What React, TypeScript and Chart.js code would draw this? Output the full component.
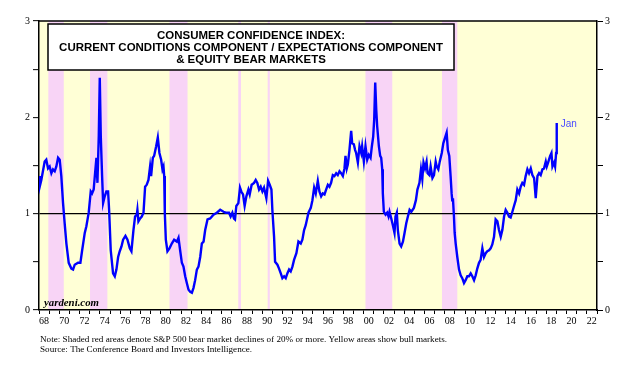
import React, { useEffect, useRef } from "react";
import { Chart, registerables } from "chart.js";

Chart.register(...registerables);

// Decimal year of each reading
const years = [
  1968.0, 1968.07, 1968.23, 1968.56, 1968.72, 1968.89, 1969.05, 1969.22, 1969.38, 1969.55, 1969.71, 1969.88,
  1970.04, 1970.2, 1970.37, 1970.53, 1970.7, 1970.93, 1971.19, 1971.36, 1971.52, 1971.85, 1972.08, 1972.24,
  1972.51, 1972.67, 1972.9, 1973.1, 1973.23, 1973.39, 1973.56, 1973.66, 1973.76, 1973.89, 1973.99, 1974.09,
  1974.22, 1974.32, 1974.48, 1974.64, 1974.81, 1974.91, 1975.07, 1975.3, 1975.47, 1975.63, 1975.8, 1975.96,
  1976.13, 1976.29, 1976.52, 1976.72, 1976.95, 1977.11, 1977.31, 1977.47, 1977.64, 1977.7, 1977.8, 1977.97,
  1978.13, 1978.3, 1978.46, 1978.62, 1978.79, 1978.95, 1979.05, 1979.22, 1979.35, 1979.55, 1979.71, 1979.87,
  1980.04, 1980.17, 1980.27, 1980.34, 1980.4, 1980.5, 1980.66, 1980.86, 1981.09, 1981.32, 1981.59, 1981.75,
  1981.91, 1982.08, 1982.24, 1982.41, 1982.57, 1982.74, 1982.9, 1983.07, 1983.23, 1983.39, 1983.56, 1983.72,
  1983.89, 1984.05, 1984.22, 1984.38, 1984.61, 1984.87, 1985.2, 1985.53, 1985.86, 1986.19, 1986.4, 1986.73,
  1986.89, 1987.06, 1987.22, 1987.32, 1987.45, 1987.65, 1987.81, 1987.94, 1988.11, 1988.27, 1988.44, 1988.64,
  1988.77, 1988.96, 1989.2, 1989.36, 1989.52, 1989.69, 1989.85, 1990.02, 1990.18, 1990.41, 1990.58, 1990.74,
  1990.91, 1991.0, 1991.17, 1991.27, 1991.5, 1991.66, 1991.83, 1991.99, 1992.16, 1992.32, 1992.48, 1992.65,
  1992.81, 1992.98, 1993.14, 1993.37, 1993.57, 1993.8, 1993.96, 1994.13, 1994.29, 1994.56, 1994.79, 1994.95,
  1995.12, 1995.28, 1995.48, 1995.64, 1995.81, 1995.97, 1996.14, 1996.3, 1996.47, 1996.63, 1996.79, 1996.96,
  1997.12, 1997.29, 1997.45, 1997.62, 1997.78, 1997.95, 1998.11, 1998.21, 1998.34, 1998.44, 1998.6, 1998.77,
  1998.87, 1999.03, 1999.16, 1999.26, 1999.43, 1999.59, 1999.76, 1999.85, 2000.02, 2000.18, 2000.35, 2000.51,
  2000.68, 2000.81, 2000.94, 2001.04, 2001.14, 2001.24, 2001.33, 2001.5, 2001.63, 2001.73, 2001.83, 2001.89,
  2001.99, 2002.16, 2002.32, 2002.45, 2002.55, 2002.72, 2002.88, 2003.04, 2003.14, 2003.27, 2003.37, 2003.54,
  2003.7, 2003.87, 2004.03, 2004.2, 2004.36, 2004.53, 2004.7, 2004.95, 2005.15, 2005.3, 2005.5, 2005.65,
  2005.78, 2005.9, 2006.05, 2006.2, 2006.3, 2006.48, 2006.6, 2006.78, 2006.93, 2007.1, 2007.2, 2007.36,
  2007.5, 2007.7, 2007.85, 2008.18, 2008.3, 2008.44, 2008.57, 2008.67, 2008.73, 2008.8, 2008.9, 2008.97,
  2009.07, 2009.23, 2009.4, 2009.56, 2009.72, 2009.89, 2010.05, 2010.22, 2010.38, 2010.55, 2010.71, 2010.88,
  2011.04, 2011.2, 2011.37, 2011.53, 2011.7, 2011.86, 2012.03, 2012.19, 2012.36, 2012.52, 2012.68, 2012.85,
  2013.01, 2013.18, 2013.34, 2013.51, 2013.67, 2013.84, 2014.0, 2014.17, 2014.33, 2014.49, 2014.66, 2014.82,
  2014.99, 2015.15, 2015.32, 2015.48, 2015.64, 2015.81, 2015.97, 2016.14, 2016.3, 2016.47, 2016.63, 2016.8,
  2016.96, 2017.13, 2017.29, 2017.45, 2017.62, 2017.78, 2017.95, 2018.05, 2018.18, 2018.38, 2018.51, 2018.61,
  2018.77, 2018.87, 2018.97, 2019.03,
];

// Current Conditions / Expectations ratio
const ratio = [
  1.39, 1.28, 1.35, 1.54, 1.56, 1.47, 1.49, 1.42, 1.46, 1.44, 1.49, 1.58,
  1.56, 1.39, 1.11, 0.9, 0.69, 0.49, 0.43, 0.42, 0.47, 0.49, 0.49, 0.61,
  0.8, 0.87, 1.01, 1.23, 1.21, 1.25, 1.46, 1.58, 1.32, 1.8, 2.41, 1.8,
  1.39, 1.11, 1.18, 1.23, 1.23, 1.04, 0.62, 0.38, 0.35, 0.42, 0.55, 0.61,
  0.66, 0.73, 0.77, 0.73, 0.64, 0.61, 0.83, 0.97, 0.99, 1.04, 0.92, 0.95,
  0.97, 1.01, 1.28, 1.3, 1.35, 1.49, 1.39, 1.58, 1.6, 1.7, 1.79, 1.63,
  1.56, 1.46, 1.49, 1.39, 1.01, 0.73, 0.61, 0.64, 0.69, 0.73, 0.71, 0.75,
  0.62, 0.49, 0.45, 0.35, 0.28, 0.21, 0.19, 0.18, 0.23, 0.31, 0.42, 0.45,
  0.55, 0.69, 0.71, 0.83, 0.94, 0.95, 0.99, 1.01, 1.04, 1.02, 1.01, 1.01,
  0.97, 1.01, 0.95, 0.94, 1.08, 1.11, 1.27, 1.23, 1.2, 1.08, 1.18, 1.25,
  1.2, 1.3, 1.32, 1.35, 1.32, 1.25, 1.28, 1.23, 1.27, 1.16, 1.34, 1.3,
  1.25, 1.04, 0.76, 0.5, 0.47, 0.43, 0.38, 0.33, 0.35, 0.33, 0.38, 0.42,
  0.4, 0.45, 0.52, 0.59, 0.71, 0.69, 0.73, 0.83, 0.88, 1.01, 1.06, 1.14,
  1.27, 1.21, 1.34, 1.23, 1.18, 1.21, 1.2, 1.25, 1.3, 1.28, 1.32, 1.4,
  1.39, 1.42, 1.4, 1.44, 1.42, 1.39, 1.47, 1.6, 1.47, 1.51, 1.66, 1.86,
  1.73, 1.72, 1.66, 1.63, 1.53, 1.7, 1.63, 1.7, 1.54, 1.7, 1.56, 1.61,
  1.58, 1.7, 1.8, 1.98, 2.36, 2.08, 1.91, 1.7, 1.6, 1.58, 1.46, 1.21,
  1.02, 0.99, 1.01, 0.97, 1.02, 0.95, 0.88, 0.8, 0.97, 1.01, 0.83, 0.69,
  0.66, 0.71, 0.8, 0.9, 0.97, 1.04, 1.02, 1.06, 1.14, 1.25, 1.32, 1.46,
  1.36, 1.53, 1.47, 1.54, 1.42, 1.4, 1.49, 1.37, 1.4, 1.54, 1.49, 1.46,
  1.54, 1.63, 1.73, 1.84, 1.66, 1.6, 1.39, 1.21, 1.14, 1.16, 0.97, 0.8,
  0.69, 0.55, 0.42, 0.36, 0.33, 0.28, 0.31, 0.35, 0.35, 0.38, 0.35, 0.31,
  0.36, 0.43, 0.49, 0.52, 0.64, 0.55, 0.59, 0.61, 0.62, 0.64, 0.68, 0.76,
  0.94, 0.92, 0.83, 0.76, 0.83, 0.97, 1.04, 1.01, 0.97, 0.96, 1.02, 1.08,
  1.14, 1.25, 1.21, 1.28, 1.32, 1.3, 1.39, 1.46, 1.42, 1.47, 1.4, 1.37,
  1.16, 1.39, 1.42, 1.4, 1.46, 1.47, 1.54, 1.49, 1.53, 1.6, 1.63, 1.49,
  1.53, 1.49, 1.63, 1.94,
];

// S&P 500 bear markets (decimal years)
const bearStart = [1968.92, 1973.03, 1980.86, 1987.64, 1990.54, 2000.18, 2007.72];
const bearEnd = [1970.44, 1974.74, 1982.64, 1987.91, 1990.75, 2002.82, 2009.23];

const xMin = 1968;
const xMax = 2023;
const yMin = 0;
const yMax = 3;

const titleLines = [
  "CONSUMER CONFIDENCE INDEX:",
  "CURRENT CONDITIONS COMPONENT / EXPECTATIONS COMPONENT",
  "& EQUITY BEAR MARKETS",
];
const noteLines = [
  "Note: Shaded red areas denote S&P 500 bear market declines of 20% or more. Yellow areas show bull markets.",
  "Source: The Conference Board and Investors Intelligence.",
];
const lastLabel = "Jan";
const watermark = "yardeni.com";

const YELLOW = "#FFFFD6";
const PINK = "#F8D4F6";

function fitFont(ctx: CanvasRenderingContext2D, text: string, style: string, family: string, target: number) {
  ctx.font = `${style} 10px ${family}`;
  const w = ctx.measureText(text).width;
  const size = (10 * target) / w;
  ctx.font = `${style} ${size.toFixed(2)}px ${family}`;
}

const decor = {
  id: "decor",
  beforeDraw(chart: any) {
    const { ctx, chartArea: a, scales } = chart;
    const x = scales.x;
    ctx.save();
    ctx.fillStyle = YELLOW;
    ctx.fillRect(a.left, a.top, a.right - a.left, a.bottom - a.top);
    ctx.fillStyle = PINK;
    bearStart.forEach((s, i) => {
      const x0 = x.getPixelForValue(s);
      const x1 = x.getPixelForValue(bearEnd[i]);
      ctx.fillRect(x0, a.top, x1 - x0, a.bottom - a.top);
    });
    ctx.restore();
  },
  afterDraw(chart: any) {
    const { ctx, chartArea: a, scales } = chart;
    ctx.save();
    // top frame line
    ctx.strokeStyle = "#000";
    ctx.lineWidth = 1.5;
    ctx.beginPath();
    ctx.moveTo(a.left, a.top);
    ctx.lineTo(a.right, a.top);
    ctx.stroke();

    // title box
    const bx = a.left + 9;
    const by = a.top + 3;
    const bw = 406;
    const bh = 46;
    ctx.fillStyle = "#fff";
    ctx.fillRect(bx, by, bw, bh);
    ctx.lineWidth = 1.5;
    ctx.strokeRect(bx, by, bw, bh);
    fitFont(ctx, titleLines[1], "bold", "'Liberation Sans', Arial, sans-serif", 384);
    ctx.fillStyle = "#000";
    ctx.textAlign = "center";
    ctx.textBaseline = "middle";
    titleLines.forEach((t, i) => {
      ctx.fillText(t, bx + bw / 2, by + 12 + i * 11.8);
    });

    // watermark
    fitFont(ctx, watermark, "italic bold", "'Liberation Serif', 'Times New Roman', serif", 55);
    ctx.textAlign = "left";
    ctx.textBaseline = "alphabetic";
    ctx.fillText(watermark, a.left + 5, a.bottom - 4);

    // last value label
    const xs = scales.x;
    const ys = scales.y;
    const lx = xs.getPixelForValue(years[years.length - 1]);
    const ly = ys.getPixelForValue(ratio[ratio.length - 1]);
    ctx.font = "10px 'Liberation Sans', Arial, sans-serif";
    ctx.fillStyle = "#4B4BFF";
    ctx.textBaseline = "middle";
    ctx.fillText(lastLabel, lx + 4, ly + 1);

    // notes
    fitFont(ctx, noteLines[0], "", "'Liberation Serif', 'Times New Roman', serif", 408);
    ctx.fillStyle = "#000";
    ctx.textBaseline = "middle";
    ctx.fillText(noteLines[0], 40, 340);
    ctx.fillText(noteLines[1], 40, 349.5);
    ctx.restore();
  },
};

export default function App() {
  const ref = useRef<HTMLCanvasElement>(null);
  useEffect(() => {
    document.body.style.margin = "0";
    const points = years.map((x, i) => ({ x, y: ratio[i] }));
    const tickFont = { family: "'Liberation Serif', 'Times New Roman', serif", size: 10 };
    const yTickCb = (v: any) => (Number(v) % 1 === 0 ? String(v) : "");
    const chart = new Chart(ref.current as HTMLCanvasElement, {
      type: "line",
      data: {
        datasets: [
          {
            data: points,
            borderColor: "#0000FF",
            borderWidth: 2.4,
            pointRadius: 0,
            tension: 0,
            fill: false,
          },
        ],
      },
      options: {
        responsive: false,
        animation: false,
        devicePixelRatio: 1,
        parsing: true as any,
        layout: { padding: { top: 21, bottom: 48, left: 0, right: 0 } },
        plugins: { legend: { display: false }, tooltip: { enabled: false } },
        scales: {
          x: {
            type: "linear",
            min: xMin,
            max: xMax,
            afterFit: (s: any) => {
              s.height = 20;
            },
            ticks: {
              stepSize: 1,
              autoSkip: false,
              maxRotation: 0,
              labelOffset: 5,
              padding: 1,
              color: "#000",
              font: tickFont,
              callback: (v: any) => {
                const n = Math.round(Number(v));
                return n % 2 === 0 ? String(n % 100).padStart(2, "0") : "";
              },
            },
            grid: { drawOnChartArea: false, drawTicks: true, tickLength: 4, tickColor: "#000", tickWidth: 1 },
            border: { display: true, color: "#000", width: 1.5 },
          },
          y: {
            type: "linear",
            position: "left",
            min: yMin,
            max: yMax,
            afterFit: (s: any) => {
              s.width = 39;
            },
            ticks: { stepSize: 0.5, color: "#000", font: tickFont, padding: 3, callback: yTickCb },
            grid: {
              drawOnChartArea: true,
              color: (c: any) => (c.tick && c.tick.value === 1 ? "#000" : "rgba(0,0,0,0)"),
              lineWidth: 1.3,
              drawTicks: true,
              tickLength: 6,
              tickColor: "#000",
              tickWidth: 1,
            },
            border: { display: true, color: "#000", width: 1.5 },
          },
          y2: {
            type: "linear",
            position: "right",
            display: true,
            min: yMin,
            max: yMax,
            afterFit: (s: any) => {
              s.width = 26;
            },
            ticks: { stepSize: 0.5, color: "#000", font: tickFont, padding: 2, callback: yTickCb },
            grid: { drawOnChartArea: false, drawTicks: true, tickLength: 6, tickColor: "#000", tickWidth: 1 },
            border: { display: true, color: "#000", width: 1.5 },
          },
        },
      },
      plugins: [decor],
    } as any);
    return () => chart.destroy();
  }, []);
  return (
    <div style={{ position: "absolute", left: 0, top: 0, width: 623, height: 378, background: "#fff" }}>
      <canvas ref={ref} width={623} height={378} style={{ display: "block" }} />
    </div>
  );
}
